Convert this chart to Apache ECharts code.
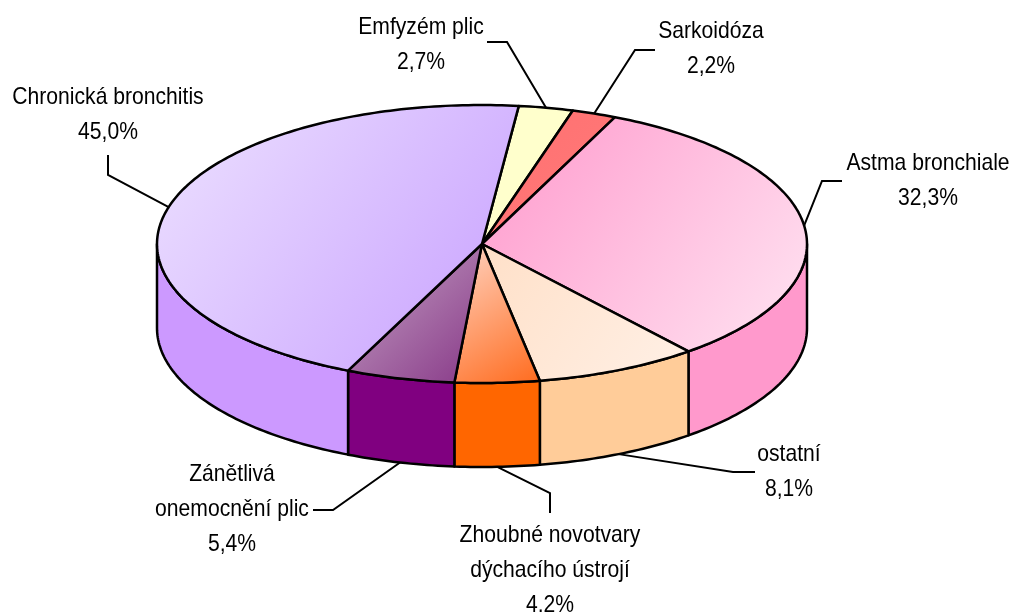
<!DOCTYPE html>
<html>
<head>
<meta charset="utf-8">
<title>Nemoci dýchacího ústrojí</title>
<script src="https://cdn.jsdelivr.net/npm/echarts@6/dist/echarts.min.js"></script>
<style>
	html, body { margin: 0; padding: 0; background: #fff; }
	#chart { width: 1013px; height: 612px; }
</style>
</head>
<body>
<div id="chart"></div>
<script>
// slices, clockwise from the top
var names = ['Emfyzém plic', 'Sarkoidóza', 'Astma bronchiale', 'ostatní',
	'Zhoubné novotvary\ndýchacího ústrojí', 'Zánětlivá\nonemocnění plic', 'Chronická bronchitis'];
var values = [2.7, 2.2, 32.3, 8.1, 4.2, 5.4, 45.0];
var valueLabels = ['2,7%', '2,2%', '32,3%', '8,1%', '4.2%', '5,4%', '45,0%'];

// colours: top face gradient (from, to) and side wall
var topFrom = ['#ffffcc', '#ff7070', '#ff99cc', '#ffe0c8', '#ffd6c6', '#c6a6c6', '#ede1ff'];
var topTo   = ['#ffffcc', '#ff7a7a', '#ffe4f2', '#fff0e6', '#ff6a1c', '#873787', '#c79fff'];
var sideColors = ['#ffffcc', '#ff7070', '#ff99cc', '#ffcc99', '#ff6600', '#800080', '#cc99ff'];

// label placement (text block centre, leader knee, leader end)
var labelCenter = [[421, 45], [711, 49], [928, 181], [789, 472], [550, 570], [232, 509], [108, 115]];
var leaderKnee = [[507, 42], [635, 50], [822, 181], [733, 472], [550, 493], [333, 510], [108, 175]];
var leaderEnd  = [[487, 42], [655, 50], [842, 181], [755, 472], [550, 513], [313, 510], [108, 155]];

// pie geometry
var cx = 482, cy = 244, rx = 325, ry = 139, depth = 84, startAngle = 6.5;
var total = values.reduce(function(s, v) { return s + v; }, 0);

function pt(deg, dy) {
	var r = deg * Math.PI / 180;
	return [cx + rx * Math.sin(r), cy - ry * Math.cos(r) + (dy || 0)];
}
function arc(a, b, dy) {
	var n = Math.max(2, Math.ceil(Math.abs(b - a)));
	var pts = [];
	for (var k = 0; k <= n; k++) pts.push(pt(a + (b - a) * k / n, dy));
	return pts;
}

function renderSlice(params, api) {
	var i = params.dataIndex;
	var before = 0;
	for (var j = 0; j < i; j++) before += values[j];
	var a = startAngle + before / total * 360;
	var b = a + api.value(0) / total * 360;
	var children = [];

	// side wall, only the front half is visible
	var lo = Math.max(a, 90), hi = Math.min(b, 270);
	if (lo < hi) {
		children.push({
			type: 'polygon', z2: 1,
			shape: { points: arc(lo, hi, 0).concat(arc(hi, lo, depth)) },
			style: { fill: sideColors[i], stroke: '#000', lineWidth: 2.5, lineJoin: 'round' }
		});
	}

	// top face
	children.push({
		type: 'polygon', z2: 2,
		shape: { points: [[cx, cy]].concat(arc(a, b, 0)) },
		style: {
			fill: {
				type: 'linear', x: 0, y: 0, x2: 1, y2: 1,
				colorStops: [{ offset: 0, color: topFrom[i] }, { offset: 1, color: topTo[i] }]
			},
			stroke: '#000', lineWidth: 2.5, lineJoin: 'round'
		}
	});

	// leader line from the rim
	var mid = (a + b) / 2;
	var front = Math.cos(mid * Math.PI / 180) < 0;
	var anchor = pt(mid, front ? depth : 0);
	children.push({
		type: 'polyline', z2: 3,
		shape: { points: [anchor, leaderKnee[i], leaderEnd[i]] },
		style: { stroke: '#000', lineWidth: 2, fill: null }
	});

	// label
	children.push({
		type: 'text', z2: 4,
		x: labelCenter[i][0], y: labelCenter[i][1], scaleX: 0.88,
		style: {
			text: names[i] + '\n' + valueLabels[i],
			font: '24px "Liberation Sans", Arial, sans-serif',
			fill: '#000',
			align: 'center', verticalAlign: 'middle',
			textAlign: 'center', textVerticalAlign: 'middle',
			lineHeight: 35
		}
	});

	return { type: 'group', children: children };
}

var chart = echarts.init(document.getElementById('chart'));
chart.setOption({
	backgroundColor: '#fff',
	animation: false,
	series: [{
		type: 'custom',
		coordinateSystem: 'none',
		silent: true,
		renderItem: renderSlice,
		data: values
	}]
});
</script>
</body>
</html>
